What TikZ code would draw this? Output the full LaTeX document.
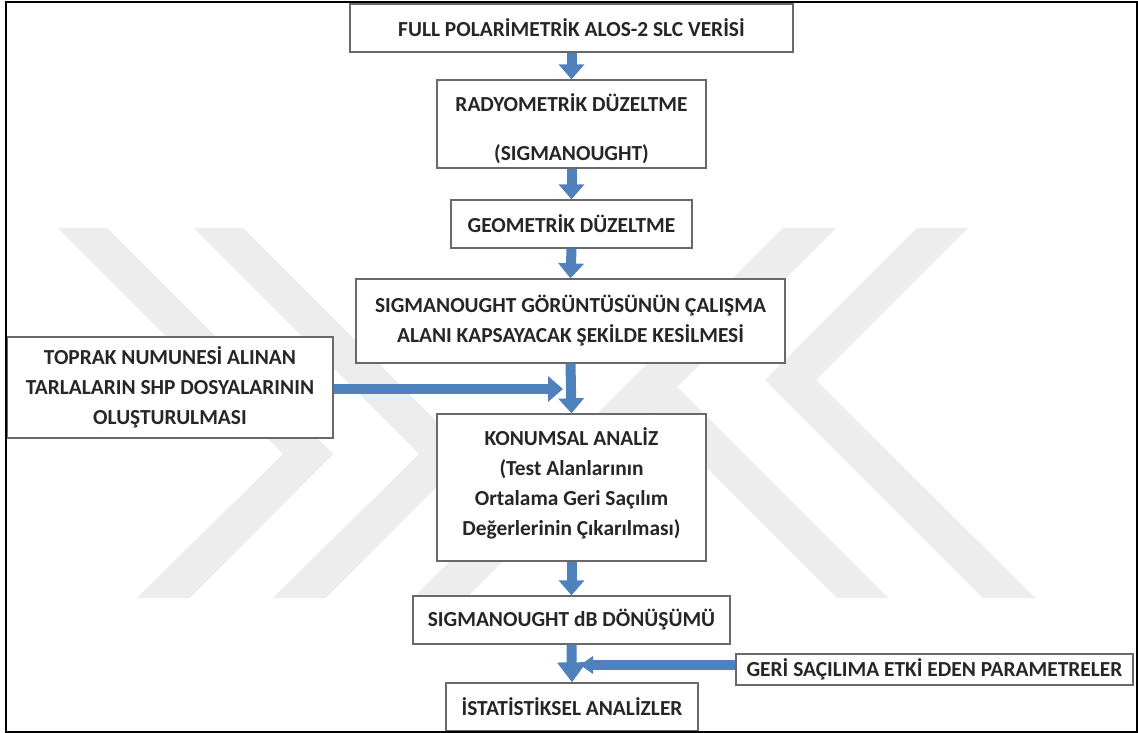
\documentclass[tikz,border=0pt]{standalone}
\usepackage{fontspec}
\setmainfont{Carlito}
\usetikzlibrary{arrows.meta}
\definecolor{flowblue}{RGB}{79,129,189}
\definecolor{markgray}{RGB}{237,237,237}
\definecolor{boxline}{RGB}{105,105,105}
\begin{document}
\begin{tikzpicture}[x=1bp,y=-1bp,
  stepbox/.style={draw=boxline, line width=1.3bp, fill=white, align=center,
    inner sep=0pt, text=black!85,
    font=\bfseries\fontsize{21.4bp}{30bp}\selectfont},
  flow/.style={draw=flowblue, line width=10bp,
    -{Triangle[width=25bp,length=15bp]}},
  emblem/.style={fill=markgray, draw=none}
]
\useasboundingbox (0,0) rectangle (1138,733);
\fill[white] (0,0) rectangle (1138,733);

% pale background emblem
\fill[emblem] (58,228) -- (107,228) -- (333,454) -- (190,598) -- (137,598) -- (283,454) -- cycle;
\fill[emblem] (194,228) -- (243,228) -- (469,454) -- (326,598) -- (273,598) -- (419,454) -- cycle;
\fill[emblem] (783,228) -- (836,228) -- (466,598) -- (413,598) -- cycle;
\fill[emblem] (651.5,412.5) -- (677,387) -- (888,598) -- (837,598) -- cycle;
\fill[emblem] (917,228) -- (968,228) -- (816,380) -- (1035,598) -- (983,598) -- (765,380) -- cycle;

% process steps
\node[stepbox, minimum width=443bp, minimum height=48bp] (b1) at (571.5,28)
  {FULL POLARİMETRİK ALOS-2 SLC VERİSİ};
\node[stepbox, minimum width=269bp, minimum height=88bp] (b2) at (571.5,124)
  {\rule{0pt}{27bp}RADYOMETRİK DÜZELTME\\[19bp](SIGMANOUGHT)};
\node[stepbox, minimum width=241bp, minimum height=48bp] (b3) at (571.5,224)
  {GEOMETRİK DÜZELTME};
\node[stepbox, minimum width=429bp, minimum height=84bp] (b4) at (570.5,321)
  {SIGMANOUGHT GÖRÜNTÜSÜNÜN ÇALIŞMA\\ALANI KAPSAYACAK ŞEKİLDE KESİLMESİ};
\node[stepbox, minimum width=326bp, minimum height=101bp] (bl) at (170,387.5)
  {TOPRAK NUMUNESİ ALINAN\\TARLALARIN SHP DOSYALARININ\\OLUŞTURULMASI};
\node[stepbox, minimum width=269bp, minimum height=147bp] (b5) at (571.5,487.5)
  {KONUMSAL ANALİZ\\(Test Alanlarının\\Ortalama Geri Saçılım\\Değerlerinin Çıkarılması)\rule[-12bp]{0pt}{12bp}};
\node[stepbox, minimum width=317bp, minimum height=48bp] (b6) at (571.5,620)
  {SIGMANOUGHT dB DÖNÜŞÜMÜ};
\node[stepbox, minimum width=397bp, minimum height=31bp] (b7) at (934.5,669.5)
  {GERİ SAÇILIMA ETKİ EDEN PARAMETRELER};
\node[stepbox, minimum width=252bp, minimum height=48bp] (b8) at (572,707)
  {İSTATİSTİKSEL ANALİZLER};

% joints where side inputs meet the main flow
\coordinate (m1) at (563,389);
\coordinate (m2) at (580,665);

% connectors
\draw[flow] (b1.south) -- (b2.north);
\draw[flow] (b2.south) -- (b3.north);
\draw[flow] (b3.south) -- (b4.north);
\draw[flow] (b4.south) -- (b5.north);
\draw[flow] (bl.east |- m1) -- (m1);
\draw[flow] (b5.south) -- (b6.north);
\draw[flow, -{Triangle[width=28bp,length=20bp]}] (b6.south) -- (b8.north);
\draw[flow, -{Triangle[width=17bp,length=13bp]}] (b7.west |- m2) -- (m2);

% outer frame
\draw[line width=2bp] (6,2) rectangle (1136.5,731.5);
\end{tikzpicture}
\end{document}
